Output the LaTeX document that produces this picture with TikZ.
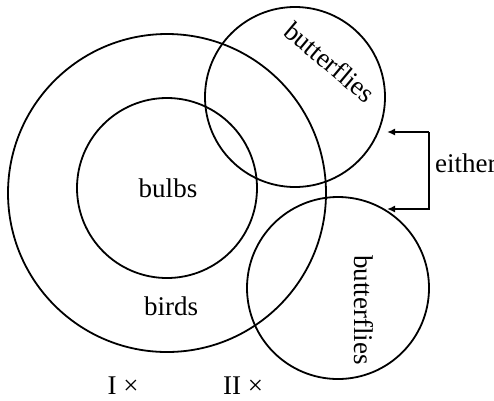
\documentclass[tikz,border=0pt]{standalone}
\usepackage{fontspec}
\setmainfont{Liberation Serif}
\usetikzlibrary{arrows.meta}

\tikzset{
  venn/.style={line width=1.8pt},
  setlbl/.style={font=\fontsize{27}{31}\selectfont, inner sep=0pt},
  brack/.style={line width=1.8pt, -{Latex[length=8pt,width=7pt]}}
}

\begin{document}
\begin{tikzpicture}[x=1pt,y=-1pt]
\useasboundingbox (0,0) rectangle (494,400);

% the four circles
\draw[venn] (167,193) circle (159pt);
\draw[venn] (167,188) circle (90pt);
\draw[venn] (295,97) circle (90pt);
\draw[venn] (338,288) circle (91pt);

% labels of the sets
\node[setlbl] (bulbs) at (168,188) {bulbs};
\node[setlbl] (birds) at (171,306) {birds};
\node[setlbl, rotate=-40] (buttA) at (330,62) {butterflies};
\node[setlbl, rotate=-90] (buttB) at (364,310) {butterflies};

% either bracket
\coordinate (tipA) at (387,132);
\coordinate (tipB) at (387,209);
\coordinate (brA) at (429,132);
\coordinate (brB) at (429,209);
\draw[brack] (brA) -- (tipA);
\draw[brack] (brA) -- (brB) -- (tipB);
\node[setlbl, anchor=west] (either) at (435,163) {either};

% conclusions
\node[setlbl] (concI) at (123,386) {I ×};
\node[setlbl] (concII) at (243,386) {II ×};

\end{tikzpicture}
\end{document}
